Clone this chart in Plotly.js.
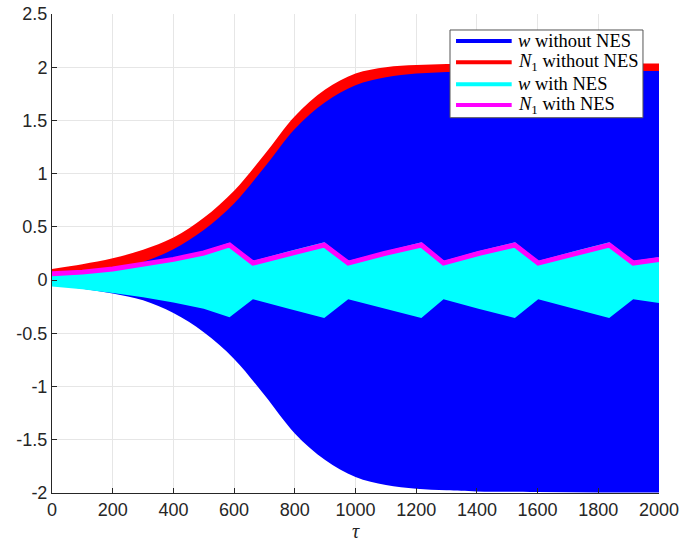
<!DOCTYPE html>
<html><head><meta charset="utf-8">
<script src="https://cdn.plot.ly/plotly-3.0.1.min.js"></script>
<style>html,body{margin:0;padding:0;background:#fff}#chart{width:681px;height:550px}</style>
</head><body><div id="chart"></div>
<script>
// Envelope of w without NES (amplitude of the oscillation)
const tauW  = [0, 100, 200, 300, 400, 500, 600, 700, 800, 900, 1000, 1100, 1200, 1300, 1400, 1600, 1800, 2000];
const wAmp  = [0.05, 0.08, 0.125, 0.19, 0.31, 0.49, 0.74, 1.08, 1.44, 1.69, 1.85, 1.925, 1.96, 1.975, 1.985, 1.99, 1.995, 1.995];
// N1 without NES (drawn band: lower / upper edge)
const n1Lo  = [0.055, 0.065, 0.105, 0.17, 0.29, 0.47, 0.72, 1.06, 1.42, 1.67, 1.83, 1.905, 1.94, 1.955, 1.965, 1.965, 1.965, 1.965];
const n1Hi  = [0.105, 0.15, 0.205, 0.285, 0.40, 0.585, 0.84, 1.18, 1.54, 1.79, 1.94, 2.0, 2.02, 2.03, 2.035, 2.035, 2.035, 2.035];
// w with NES (amplitude) and N1 with NES
const tauC  = [0, 100, 200, 300, 400, 500, 585, 662, 780, 897, 976, 1095, 1217, 1290, 1405, 1525, 1602, 1720, 1836, 1915, 2000];
const wcAmp = [0.06, 0.085, 0.12, 0.16, 0.21, 0.27, 0.35, 0.18, 0.27, 0.355, 0.18, 0.27, 0.355, 0.18, 0.27, 0.355, 0.18, 0.27, 0.355, 0.18, 0.215];
const n1C   = [0.06, 0.075, 0.105, 0.145, 0.195, 0.255, 0.33, 0.16, 0.25, 0.33, 0.16, 0.25, 0.33, 0.16, 0.25, 0.33, 0.16, 0.25, 0.33, 0.16, 0.195];
const xTicks = [0, 200, 400, 600, 800, 1000, 1200, 1400, 1600, 1800, 2000];
const yTicks = [-2, -1.5, -1, -0.5, 0, 0.5, 1, 1.5, 2, 2.5];
const legendNames = ['<i>w</i> without NES', '<i>N</i><sub>1</sub> without NES', '<i>w</i> with NES', '<i>N</i><sub>1</sub> with NES'];
const colors = ['#0000ff', '#ff0000', '#00ffff', '#ff00ff'];

const neg = a => a.map(v => -v);
const traces = [
  {x: tauW, y: neg(wAmp), mode: 'lines', line: {width: 0, shape: 'spline', color: colors[0]}, showlegend: false, hoverinfo: 'skip'},
  {x: tauW, y: wAmp, mode: 'lines', fill: 'tonexty', fillcolor: colors[0], line: {width: 0, shape: 'spline', color: colors[0]}, showlegend: false, hoverinfo: 'skip'},
  {x: tauW, y: n1Lo, mode: 'lines', line: {width: 0, shape: 'spline', color: colors[1]}, showlegend: false, hoverinfo: 'skip'},
  {x: tauW, y: n1Hi, mode: 'lines', fill: 'tonexty', fillcolor: colors[1], line: {width: 0, shape: 'spline', color: colors[1]}, showlegend: false, hoverinfo: 'skip'},
  {x: tauC, y: neg(wcAmp), mode: 'lines', line: {width: 0, color: colors[2]}, showlegend: false, hoverinfo: 'skip'},
  {x: tauC, y: wcAmp, mode: 'lines', fill: 'tonexty', fillcolor: colors[2], line: {width: 0, color: colors[2]}, showlegend: false, hoverinfo: 'skip'},
  {x: tauC, y: n1C, mode: 'lines', line: {width: 5, color: colors[3]}, showlegend: false, hoverinfo: 'skip'}
];

// Legend box drawn in paper coordinates (MATLAB-style legend)
const lgX0 = 0.6557, lgX1 = 0.9736, lgY0 = 0.7835, lgY1 = 0.9666;
const lgRows = [0.9436, 0.8991, 0.8532, 0.8100];
const lgLineX0 = 0.6656, lgLineX1 = 0.7573, lgTextX = 0.7644;
const shapes = [{type: 'rect', xref: 'paper', yref: 'paper', x0: lgX0, x1: lgX1, y0: lgY0, y1: lgY1,
  fillcolor: '#ffffff', line: {color: '#555555', width: 1}, layer: 'above'}];
const annotations = [];
legendNames.forEach((nm, i) => {
  shapes.push({type: 'line', xref: 'paper', yref: 'paper', x0: lgLineX0, x1: lgLineX1, y0: lgRows[i], y1: lgRows[i],
    line: {color: colors[i], width: 4}, layer: 'above'});
  annotations.push({xref: 'paper', yref: 'paper', x: lgTextX, y: lgRows[i], xanchor: 'left', yanchor: 'middle',
    text: nm, showarrow: false, font: {family: 'Liberation Serif, serif', size: 18.5, color: '#000'}});
});

const axisCommon = {
  showline: true, linecolor: '#262626', linewidth: 1, mirror: false,
  ticks: 'inside', ticklen: 5, tickcolor: '#262626',
  showgrid: true, gridcolor: '#e6e6e6', gridwidth: 1, zeroline: false,
  tickfont: {family: 'Liberation Sans, Arial, sans-serif', size: 18, color: '#262626'}
};
const layout = {
  width: 681, height: 550,
  margin: {l: 52, r: 22, t: 14, b: 57},
  paper_bgcolor: '#fff', plot_bgcolor: '#fff',
  showlegend: false,
  xaxis: Object.assign({}, axisCommon, {range: [0, 2000], tickvals: xTicks, ticktext: xTicks.map(String),
    title: {text: '<i>τ</i>', font: {family: 'Liberation Serif, serif', size: 20, color: '#262626'}, standoff: 0}}),
  yaxis: Object.assign({}, axisCommon, {range: [-2, 2.5], tickvals: yTicks, ticktext: yTicks.map(String)}),
  shapes: shapes,
  annotations: annotations
};
Plotly.newPlot('chart', traces, layout, {displayModeBar: false, staticPlot: true});
</script></body></html>
